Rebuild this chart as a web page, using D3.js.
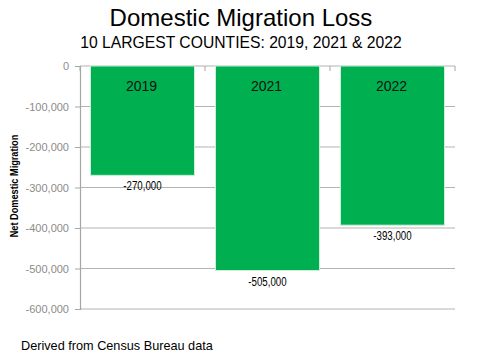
<!DOCTYPE html>
<html><head><meta charset="utf-8">
<script src="https://cdn.jsdelivr.net/npm/d3@7"></script>
<style>body{margin:0;background:#fff}</style>
</head><body>
<svg id="c" width="481" height="360"></svg>
<script>
const years = ["2019", "2021", "2022"];
const values = [-270000, -505000, -393000];
const valueLabels = ["-270,000", "-505,000", "-393,000"];
const tickValues = [0, -100000, -200000, -300000, -400000, -500000, -600000];

(function () {
const svg = d3.select("#c");
const pLeft = 80, pRight = 455, pTop = 66, pBottom = 309;
const x = d3.scaleBand().domain(years).range([pLeft, pRight]).paddingInner(0.168).paddingOuter(0.084);
const y = d3.scaleLinear().domain([0, -600000]).range([pTop, pBottom]);
const font = "Liberation Sans, Arial, sans-serif";

// gridlines
svg.append("g").selectAll("line").data(tickValues).join("line")
  .attr("x1", pLeft).attr("x2", pRight)
  .attr("y1", d => y(d)).attr("y2", d => y(d))
  .attr("stroke", "#b3b3b3").attr("stroke-width", 1.2);

// category axis ticks (at band boundaries along zero line)
const bounds = years.map(d => x(d) - x.step() * x.paddingInner() / 2).concat([pRight]);
svg.append("g").selectAll("line").data(bounds).join("line")
  .attr("x1", d => d).attr("x2", d => d)
  .attr("y1", y(0)).attr("y2", y(0) + 5)
  .attr("stroke", "#a6a6a6").attr("stroke-width", 1);

// axis
const ax = svg.append("g").attr("transform", `translate(${pLeft},0)`)
  .call(d3.axisLeft(y).tickValues(tickValues).tickSize(5).tickPadding(6)
    .tickFormat(d => d === 0 ? "0" : d3.format(",")(d).replace("−", "-")));
ax.select(".domain").attr("stroke", "#a6a6a6").attr("stroke-width", 1.2);
ax.selectAll(".tick line").attr("stroke", "#a6a6a6");
ax.selectAll(".tick text").attr("fill", "#8c8c8c").attr("font-family", font).attr("font-size", 11);

// bars
svg.append("g").selectAll("rect").data(years).join("rect")
  .attr("x", d => x(d)).attr("width", x.bandwidth())
  .attr("y", y(0)).attr("height", (d, i) => y(values[i]) - y(0))
  .attr("fill", "#00b050").attr("stroke", "#cdeedb").attr("stroke-width", 1);

// year labels
svg.append("g").selectAll("text").data(years).join("text")
  .attr("x", d => x(d) + x.bandwidth() / 2 - 1).attr("y", 91)
  .attr("text-anchor", "middle").attr("font-family", font)
  .attr("font-size", 14).attr("fill", "#111").text(d => d);

// value labels (condensed)
svg.append("g").selectAll("text").data(years).join("text")
  .attr("transform", (d, i) => `translate(${x(d) + x.bandwidth() / 2},${y(values[i]) + 15}) scale(0.72,1)`)
  .attr("text-anchor", "middle").attr("font-family", font)
  .attr("font-size", 13.5).attr("fill", "#000")
  .text((d, i) => valueLabels[i]);

// titles
svg.append("text").attr("x", 241).attr("y", 26).attr("text-anchor", "middle")
  .attr("font-family", font).attr("font-size", 24).attr("fill", "#000")
  .text("Domestic Migration Loss");
svg.append("text").attr("x", 241).attr("y", 48).attr("text-anchor", "middle")
  .attr("font-family", font).attr("font-size", 15.7).attr("fill", "#000")
  .text("10 LARGEST COUNTIES: 2019, 2021 & 2022");

// y-axis title (condensed bold)
svg.append("text").attr("transform", "translate(18,186) rotate(-90) scale(0.8,1)").attr("text-anchor", "middle")
  .attr("font-family", font).attr("font-weight", "bold")
  .attr("font-size", 11.5).attr("fill", "#000").text("Net Domestic Migration");

// footer
svg.append("text").attr("x", 21).attr("y", 350)
  .attr("font-family", font).attr("font-size", 12.7).attr("fill", "#000")
  .text("Derived from Census Bureau data");
})();
</script>
</body></html>
